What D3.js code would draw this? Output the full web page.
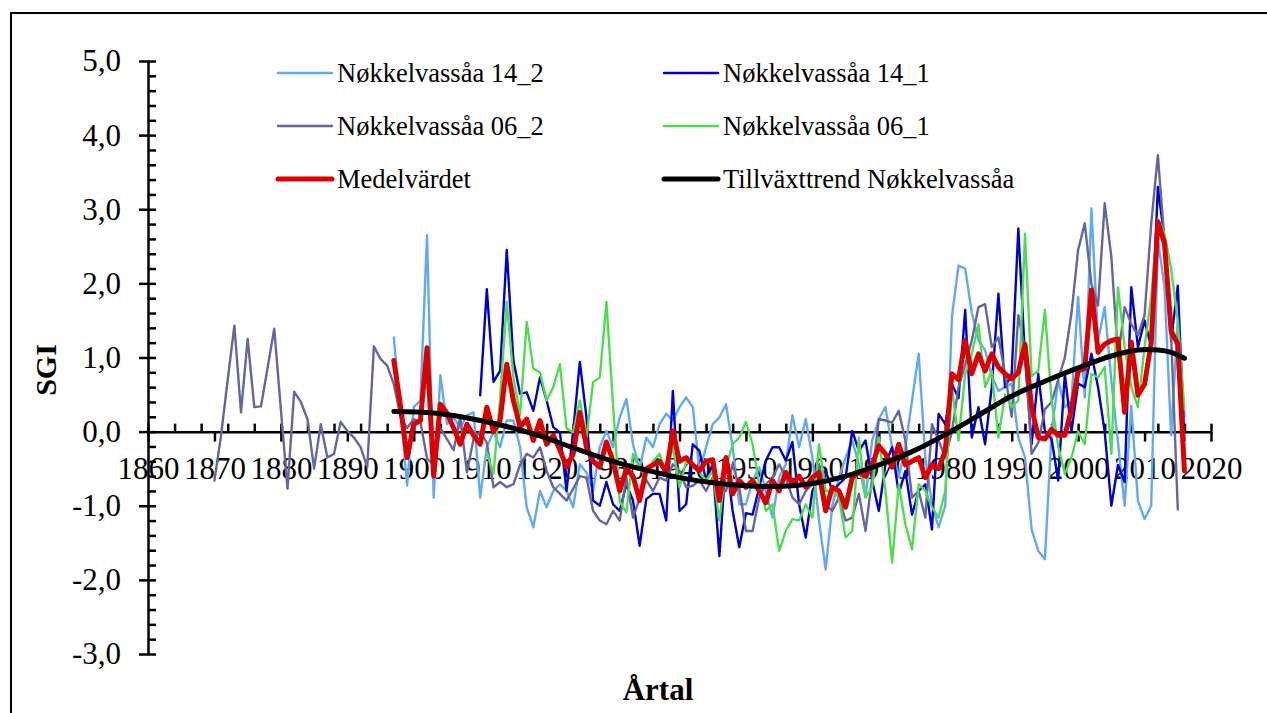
<!DOCTYPE html>
<html><head><meta charset="utf-8">
<script src="https://cdn.jsdelivr.net/npm/d3@7"></script>
<style>
html,body{margin:0;padding:0;background:#fff;}
svg{display:block;}
text{font-family:"Liberation Serif","Times New Roman",serif;fill:#000;}
</style></head>
<body>
<svg id="chart" width="1267" height="713"></svg>
<script>
// ---------- DATA ----------
const xTickYears = [1860,1870,1880,1890,1900,1910,1920,1930,1940,1950,1960,1970,1980,1990,2000,2010,2020];
const yTickValues = [-3,-2,-1,0,1,2,3,4,5];
const seriesNames = ["Nøkkelvassåa 14_2","Nøkkelvassåa 14_1","Nøkkelvassåa 06_2","Nøkkelvassåa 06_1","Medelvärdet","Tillväxttrend Nøkkelvassåa"];

const start14_2 = 1897;
const values14_2 = [1.27,0.30,-0.73,0.33,0.42,2.65,-0.89,0.76,0.10,0.19,
 0.05,0.22,0.26,-0.89,-0.21,0.00,-0.21,0.15,0.15,-0.21,
 -1.02,-1.29,-0.80,-1.02,-0.80,-0.71,-0.80,-1.02,-0.44,-0.55,
 -0.80,-0.21,0.01,-0.21,0.19,0.44,-0.17,-0.50,-0.08,-0.21,
 0.10,0.24,0.15,0.33,0.46,0.33,-0.53,-0.21,0.10,0.19,
 0.37,-0.21,-0.98,-0.98,-0.66,-0.48,-0.80,-1.16,-0.62,-0.44,
 0.22,-0.21,0.17,-0.35,-1.20,-1.86,-1.00,-0.62,-0.35,-0.12,
 -0.44,-0.89,-0.12,0.17,0.33,-0.21,-0.62,-0.21,0.42,1.05,
 -0.35,-0.98,-1.29,-1.00,1.55,2.24,2.20,1.60,1.23,1.10,
 0.75,0.55,0.60,0.65,-0.08,-0.35,-1.32,-1.61,-1.72,0.00,
 0.69,0.33,0.42,1.82,0.46,3.01,1.23,1.68,0.69,-0.15,
 -1.00,0.35,-0.93,-1.18,-1.00,2.60,1.95,-0.05,1.50,0.20];

const start14_1 = 1910;
const values14_1 = [0.49,1.92,0.67,0.82,2.45,0.96,0.51,0.53,0.28,0.73,
 0.42,0.06,-0.01,-0.80,0.01,0.94,0.19,-0.93,-1.00,-0.68,
 -0.98,-1.07,-0.71,-0.93,-1.54,-0.91,-0.84,-0.84,-1.20,0.55,
 -1.07,-0.98,-0.17,-0.26,-0.66,-0.44,-1.68,-0.35,-1.07,-1.56,
 -1.10,-1.12,-0.75,-0.39,-0.21,-0.21,-0.39,-0.14,-0.98,-1.43,
 -0.80,-0.62,-0.53,-0.80,-0.71,-0.62,0.01,-0.26,-0.12,-0.66,
 -1.07,-0.44,-0.21,-0.84,-0.53,-1.12,-0.80,-0.71,-1.32,0.24,
 0.10,0.64,0.45,1.64,-0.08,0.33,-0.17,0.60,1.86,0.60,
 0.78,2.74,1.00,-0.17,0.78,0.00,-0.10,-0.66,0.78,0.00,
 0.65,0.60,1.05,0.60,0.00,-1.00,-0.45,-0.68,1.95,1.14,
 1.50,1.14,3.30,2.60,1.23,1.97,-0.12];

const start06_2 = 1870;
const values06_2 = [-0.66,-0.05,0.70,1.43,0.26,1.25,0.33,0.34,0.86,1.39,
 0.30,-0.77,0.54,0.40,0.17,-0.50,0.10,-0.35,-0.30,0.13,
 0.01,-0.08,-0.21,-0.48,1.15,0.98,0.89,0.64,0.20,0.05,
 0.17,0.13,-0.36,-0.45,0.05,-0.10,-0.25,0.20,-0.55,-0.10,
 0.00,-0.15,-0.75,-0.68,-0.75,-0.71,-0.45,-0.30,-0.35,-0.21,
 -0.53,-0.75,-0.84,-0.93,-0.77,-0.60,-0.62,-1.07,-1.20,-1.25,
 -1.07,-1.20,-0.62,-1.16,-0.90,-0.65,-0.80,-0.62,-0.66,-0.44,
 -0.53,-0.75,-0.73,-0.66,-0.80,-0.62,-0.84,-0.80,-0.44,-0.75,
 -1.34,-1.34,-0.89,-0.71,-0.62,-0.44,-0.62,-0.89,-0.98,-0.80,
 -0.71,-0.44,-0.98,-1.07,-0.89,-1.20,-1.16,-0.84,-1.34,-0.62,
 0.17,0.15,0.12,0.28,-0.12,-0.89,-0.80,-1.16,0.10,-0.12,
 -0.35,0.00,0.60,0.90,1.23,1.68,1.72,1.14,1.27,0.78,
 0.20,1.57,1.10,-0.30,-0.15,0.30,0.40,0.70,1.00,1.60,
 2.45,2.81,1.99,1.70,3.08,2.36,1.00,1.68,1.45,1.30,
 1.57,2.80,3.73,2.58,1.30,-1.05];

const start06_1 = 1911;
const values06_1 = [-0.28,-0.57,0.45,1.75,0.73,0.22,1.48,0.85,0.80,0.42,
 0.60,0.91,0.04,-0.01,0.42,-0.08,0.67,0.73,1.75,0.35,
 -0.94,-1.09,-0.30,-0.50,-0.60,-0.40,-0.30,-0.55,-0.20,-0.75,
 -0.40,-0.45,-0.55,-0.66,-0.53,-1.20,-0.48,-0.17,-0.08,0.13,
 -0.17,-0.71,-1.07,-0.98,-1.61,-1.34,-1.18,-1.20,-0.98,-1.16,
 -0.17,-0.80,-0.80,-0.89,-1.43,-1.34,-0.08,-0.89,-0.75,-0.08,
 -0.80,-1.77,-0.71,-1.25,-1.59,-0.71,-0.80,-1.02,-1.16,-0.80,
 0.60,-0.12,0.78,1.05,1.45,0.60,0.82,-0.08,0.50,0.33,
 0.42,2.67,0.75,0.82,1.64,0.42,-0.20,-0.57,-0.35,0.00,
 -0.17,0.78,0.73,0.87,-0.30,1.95,1.14,0.60,0.33,1.14,
 1.82,2.87,2.67,2.20,1.50,0.30];

const startMean = 1897;
const valuesMean = [0.96,0.35,-0.35,0.10,0.15,1.13,-0.60,0.37,0.25,0.05,
 -0.17,0.10,-0.05,-0.17,0.33,0.00,0.15,0.91,0.42,0.06,
 0.17,-0.12,0.15,-0.17,-0.05,-0.25,-0.48,-0.30,0.26,-0.21,
 -0.40,-0.48,-0.14,-0.40,-0.80,-0.50,-0.60,-0.93,-0.50,-0.45,
 -0.40,-0.55,0.01,-0.40,-0.35,-0.45,-0.53,-0.40,-0.38,-0.93,
 -0.35,-0.84,-0.66,-0.75,-0.66,-0.80,-0.96,-0.66,-0.80,-0.55,
 -0.70,-0.60,-0.75,-0.62,-0.55,-1.07,-0.75,-0.80,-1.02,-0.62,
 -0.55,-0.60,-0.45,-0.19,-0.30,-0.48,-0.17,-0.45,-0.40,-0.35,
 -0.62,-0.45,-0.50,-0.26,0.78,0.70,1.23,0.78,1.05,0.82,
 1.05,0.87,0.78,0.71,0.80,1.18,0.33,-0.08,-0.10,0.03,
 -0.05,-0.05,0.30,0.82,0.85,1.91,1.07,1.18,1.23,1.25,
 0.26,1.21,0.49,0.64,1.20,2.83,2.54,1.36,1.18,-0.53];

const trendYears = [1897,1903,1910,1918,1925,1930,1935,1940,1945,1950,1955,1960,1965,1970,1975,1980,1985,1990,1995,2000,2005,2009,2012,2014,2016];
const trendValues = [0.27,0.25,0.15,-0.03,-0.25,-0.40,-0.52,-0.62,-0.69,-0.73,-0.74,-0.70,-0.60,-0.45,-0.27,-0.04,0.22,0.48,0.68,0.86,1.02,1.10,1.10,1.07,0.99];

// ---------- STYLE ----------
const colors = ["#62A9F4","#0000CC","#66669E","#4FDD4F","#DD0000","#000000"];
const widths = [2.4,2.4,2.4,2.4,5,5];

const svg = d3.select("#chart");
const x = d3.scaleLinear().domain([1860,2020]).range([148,1211]);
const y = d3.scaleLinear().domain([-3,5]).range([654,61]);

// border
svg.append("rect").attr("x",11).attr("y",13).attr("width",1400).attr("height",900)
  .attr("fill","none").attr("stroke","#000").attr("stroke-width",2);

const toPts = (start, vals) => vals.map((v,i)=>({yr:start+i, v}));
const series = [
  toPts(start14_2, values14_2),
  toPts(start14_1, values14_1),
  toPts(start06_2, values06_2),
  toPts(start06_1, values06_1),
  toPts(startMean, valuesMean),
  trendYears.map((yr,i)=>({yr, v:trendValues[i]}))
];

// axes
const fmt = d => (d<0?"-":"") + Math.abs(d).toFixed(1).replace(".",",");
const axStyle = g => {
  g.selectAll("path.domain").attr("stroke","#000").attr("stroke-width",2.5);
  g.selectAll(".tick line").attr("stroke","#000").attr("stroke-width",2.5);
};

// y axis minor (inside, right)
const yMinor = d3.range(0,41).map(i=>-3+i*0.2);
svg.append("g").attr("transform","translate(148,0)")
  .call(d3.axisRight(y).tickValues(yMinor).tickSize(8).tickSizeOuter(0).tickFormat(""))
  .call(axStyle).call(g=>g.select("path.domain").remove());
// y axis major (outside, left) with labels
svg.append("g").attr("transform","translate(148,0)")
  .call(d3.axisLeft(y).tickValues(yTickValues).tickSize(9).tickSizeOuter(0).tickPadding(18).tickFormat(fmt))
  .call(axStyle)
  .call(g=>g.selectAll("text").attr("font-size",31).attr("font-family","Liberation Serif").attr("fill","#000"));

// x axis at y=0
const y0 = y(0);
const xMinor = d3.range(1860,2021,4);
svg.append("g").attr("transform",`translate(0,${y0})`)
  .call(d3.axisTop(x).tickValues(xMinor).tickSize(8).tickSizeOuter(0).tickFormat(""))
  .call(axStyle).call(g=>g.select("path.domain").remove());
svg.append("g").attr("transform",`translate(0,${y0})`)
  .call(d3.axisBottom(x).tickValues(xTickYears).tickSize(10).tickSizeOuter(0).tickPadding(15).tickFormat(d3.format("d")))
  .call(axStyle)
  .call(g=>g.selectAll("text").attr("font-size",31).attr("font-family","Liberation Serif").attr("fill","#000"));

// lines
const line = d3.line().x(d=>x(d.yr)).y(d=>y(d.v));
const trendLine = d3.line().x(d=>x(d.yr)).y(d=>y(d.v)).curve(d3.curveCatmullRom.alpha(0.5));
series.forEach((s,i)=>{
  svg.append("path").datum(s)
    .attr("d", i===5 ? trendLine : line)
    .attr("fill","none").attr("stroke",colors[i]).attr("stroke-width",widths[i])
    .attr("stroke-linejoin","round").attr("stroke-linecap","round");
});

// legend
const legPos = [[278,73],[664,73],[278,126],[664,126],[278,179],[664,179]];
seriesNames.forEach((n,i)=>{
  const [lx,ly] = legPos[i];
  svg.append("line").attr("x1",lx).attr("x2",lx+54).attr("y1",ly).attr("y2",ly)
    .attr("stroke",colors[i]).attr("stroke-width", i>=4?5:2.5).attr("stroke-linecap","round");
  svg.append("text").attr("x",lx+59).attr("y",ly).attr("dy","0.34em")
    .attr("font-size",26.5).text(n);
});

// axis titles
svg.append("text").attr("transform","translate(56,370) rotate(-90)")
  .attr("text-anchor","middle").attr("font-weight","bold").attr("font-size",30).text("SGI");
svg.append("text").attr("x",658).attr("y",700)
  .attr("text-anchor","middle").attr("font-weight","bold").attr("font-size",31).text("Årtal");
</script>
</body></html>
